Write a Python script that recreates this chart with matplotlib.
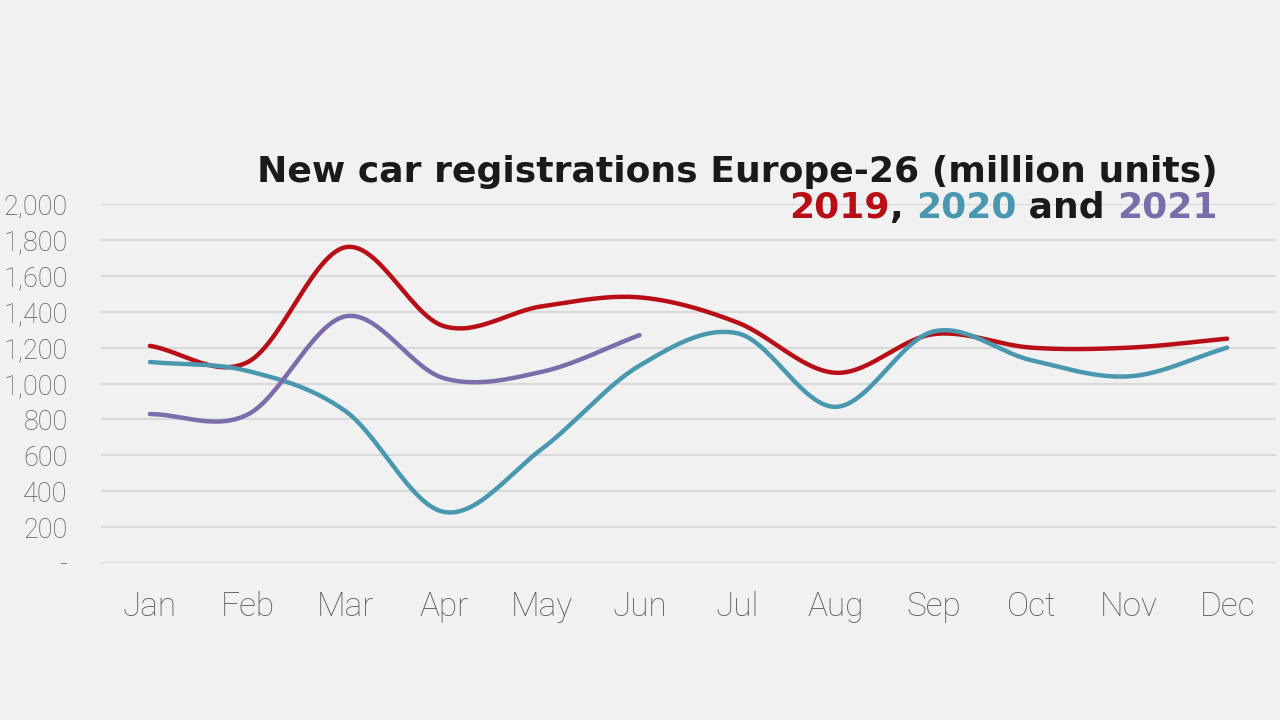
import numpy as np
import matplotlib
matplotlib.use("Agg")
import matplotlib.pyplot as plt

# Data (thousand units per month)
months = ["Jan", "Feb", "Mar", "Apr", "May", "Jun",
          "Jul", "Aug", "Sep", "Oct", "Nov", "Dec"]
y2019 = [1210, 1120, 1760, 1320, 1430, 1480, 1340, 1060, 1275, 1200, 1200, 1250]
y2020 = [1120, 1070, 845, 285, 635, 1100, 1280, 870, 1290, 1130, 1040, 1200]
y2021 = [830, 828, 1375, 1030, 1065, 1270]
yticks = [0, 200, 400, 600, 800, 1000, 1200, 1400, 1600, 1800, 2000]
ytick_labels = ["-", "200", "400", "600", "800", "1,000", "1,200",
                "1,400", "1,600", "1,800", "2,000"]

RED = "#b80f17"
TEAL = "#4a97b0"
PURPLE = "#7b6dab"
BG = "#f1f1f1"
GRID = "#d9d9d9"
TXT = "#5a5a5a"


def smooth(xs, ys, n=30):
    # Catmull-Rom style smoothing of the line (like Excel "smoothed line")
    xs = np.asarray(xs, float)
    ys = np.asarray(ys, float)
    px = np.concatenate([[2 * xs[0] - xs[1]], xs, [2 * xs[-1] - xs[-2]]])
    py = np.concatenate([[2 * ys[0] - ys[1]], ys, [2 * ys[-1] - ys[-2]]])
    out_x, out_y = [], []
    t = np.linspace(0, 1, n)
    for i in range(1, len(px) - 2):
        for p, out in ((px, out_x), (py, out_y)):
            p0, p1, p2, p3 = p[i - 1], p[i], p[i + 1], p[i + 2]
            b1 = p1 + (p2 - p0) / 6
            b2 = p2 - (p3 - p1) / 6
            seg = ((1 - t) ** 3 * p1 + 3 * (1 - t) ** 2 * t * b1
                   + 3 * (1 - t) * t ** 2 * b2 + t ** 3 * p2)
            out.extend(seg if i == 1 else seg[1:])
    return np.array(out_x), np.array(out_y)


fig = plt.figure(figsize=(12.8, 7.2), dpi=100, facecolor=BG)
ax = fig.add_axes([0.0789, 0.218, 0.918, 0.4986], facecolor=BG)

for vals, col in ((y2019, RED), (y2020, TEAL), (y2021, PURPLE)):
    sx, sy = smooth(range(len(vals)), vals)
    ax.plot(sx, sy, color=col, lw=3.2, solid_capstyle="round", zorder=3)

ax.set_xlim(-0.5, 11.5)
ax.set_ylim(0, 2000)
ax.set_xticks(range(12))
ax.set_xticklabels(months)
ax.set_yticks(yticks)
ax.set_yticklabels(ytick_labels)
ax.grid(axis="y", color=GRID, lw=1.5)
ax.set_axisbelow(True)
for s in ax.spines.values():
    s.set_visible(False)
ax.tick_params(length=0)
ax.tick_params(axis="x", pad=20, labelsize=24, labelcolor=TXT)
ax.tick_params(axis="y", pad=24, labelsize=19.5, labelcolor=TXT)
for lab in ax.get_xticklabels() + ax.get_yticklabels():
    lab.set_fontfamily("Roboto")
    lab.set_fontweight("light")

# Title
tfont = dict(family="DejaVu Sans", weight="bold", fontsize=26)
fig.text(1218 / 1280, 1 - 172 / 720, "New car registrations Europe-26 (million units)",
         ha="right", va="center", color="#1a1a1a", **tfont)

fig.canvas.draw()
r = fig.canvas.get_renderer()
x_right = 1218
parts = [("2021", PURPLE), (" and ", "#1a1a1a"), ("2020", TEAL),
         (", ", "#1a1a1a"), ("2019", RED)]
for s, c in parts:
    t = fig.text(x_right / 1280, 1 - 208 / 720, s, ha="right", va="center",
                 color=c, **tfont)
    bb = t.get_window_extent(renderer=r)
    x_right = bb.x0

fig.savefig("out.png", dpi=100, facecolor=BG)
